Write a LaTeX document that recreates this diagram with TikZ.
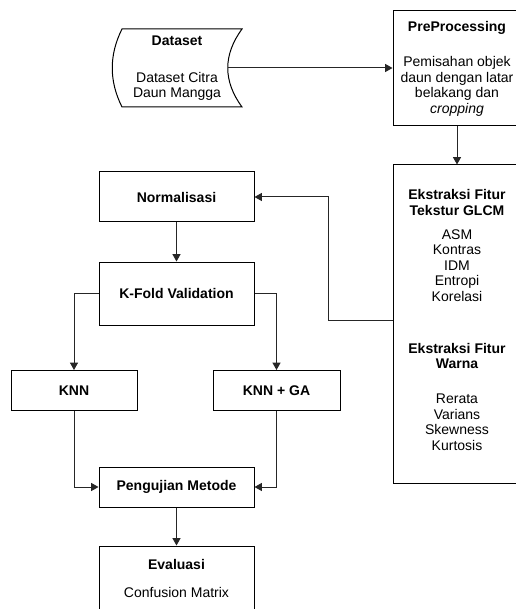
\documentclass[tikz,border=0pt]{standalone}
\usepackage{fontspec}
\setmainfont{Liberation Sans}
\usetikzlibrary{arrows.meta}
\tikzset{
  box/.style={draw=black, line width=0.75pt, rectangle, inner sep=0pt, align=center},
  txt/.style={inner sep=0pt, align=center},
  conn/.style={draw=black!85, line width=0.75pt, -{Triangle[length=5.5pt,width=6pt]}},
  every node/.style={font=\fontsize{10.5pt}{11.6pt}\selectfont}
}
\begin{document}
\begin{tikzpicture}[x=0.75pt,y=-0.75pt]
\useasboundingbox (0,0) rectangle (516,609);
% dataset (stored data shape)
\draw[line width=0.75pt] (122,29) -- (242,29) .. controls (223,55) and (223,81) .. (242,107)
  -- (122,107) .. controls (109,81) and (109,55) .. (122,29) -- cycle;
\node[txt, minimum width=76.5pt] (dataset) at (177,68) {\textbf{Dataset}\\[16pt]Dataset Citra\\Daun Mangga};

\node[box, minimum width=96pt, minimum height=86.25pt] (pre) at (457,68.5)
  {\textbf{PreProcessing}\\[15pt]Pemisahan objek\\daun dengan latar\\belakang dan\\\textit{cropping}};

\node[box, minimum width=96pt, minimum height=238.5pt] (ext) at (457,324) {};
\node[txt] (exttext) at (457,320)
  {\textbf{Ekstraksi Fitur}\\\textbf{Tekstur GLCM}\\[6.4pt]ASM\\Kontras\\IDM\\Entropi\\Korelasi\\[27.4pt]\textbf{Ekstraksi Fitur}\\\textbf{Warna}\\[14.6pt]Rerata\\Varians\\Skewness\\Kurtosis};

\node[box, minimum width=116.25pt, minimum height=37.5pt] (norm) at (176.5,197) {\textbf{Normalisasi}};
\node[box, minimum width=116.25pt, minimum height=47.25pt] (kfold) at (176.5,293.5) {\textbf{K-Fold Validation}};
\node[box, minimum width=94.5pt, minimum height=30pt] (knn) at (74,390.5) {\textbf{KNN}};
\node[box, minimum width=95.25pt, minimum height=30pt] (knnga) at (276.5,390.5) {\textbf{KNN + GA}};
\node[box, minimum width=116.25pt, minimum height=30pt] (uji) at (176.5,487) {\textbf{Pengujian Metode}};
\node[box, minimum width=116.25pt, minimum height=63pt] (eval) at (176.5,588) {};
\node[txt] (evaltext) at (176.5,578) {\textbf{Evaluasi}\\[9.4pt]Confusion Matrix};

% connectors
\draw[conn] (dataset.east) -- (pre.west |- dataset.east);
\draw[conn] (pre.south) -- (ext.north);
\draw[conn] ([yshift=3pt]ext.west) -- ++(-64,0) |- (norm.east);
\draw[conn] (norm.south) -- (kfold.north);
\draw[conn] (kfold.west) -| (knn.north);
\draw[conn] (kfold.east) -| (knnga.north);
\draw[conn] (knn.south) |- (uji.west);
\draw[conn] (knnga.south) |- (uji.east);
\draw[conn] (uji.south) -- (eval.north);
\end{tikzpicture}
\end{document}
